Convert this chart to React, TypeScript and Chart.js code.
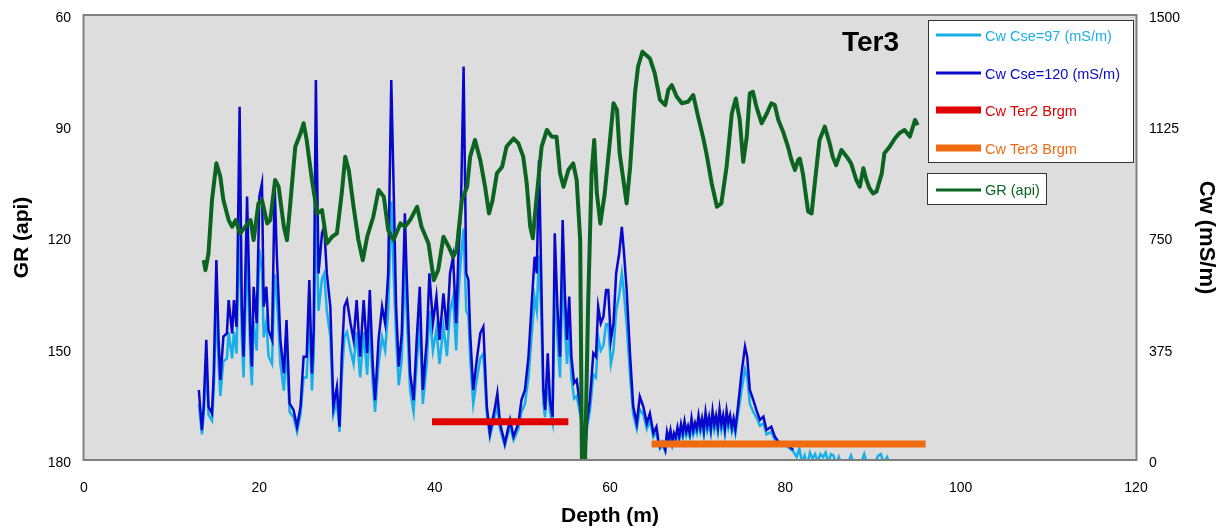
import React, { useEffect, useRef } from "react";
import { Chart, registerables } from "chart.js";

Chart.register(...registerables);

// ---------------- DATA ----------------
const depthTicks = [0, 20, 40, 60, 80, 100, 120];
const grTicks = [60, 90, 120, 150, 180];
const cwTicks = [0, 375, 750, 1125, 1500];

const grDepth = [
  13.65, 13.85, 14.2, 14.6, 15.1, 15.55, 15.9, 16.5, 16.9, 17.3, 17.8, 18.4, 19.0, 19.35, 19.9, 20.3, 20.9, 21.25,
  21.8, 22.2, 22.8, 23.15, 23.5, 24.1, 24.7, 25.05, 25.4, 26.0, 26.6, 27.15, 27.7, 28.3, 28.85, 29.4, 29.8, 30.2,
  30.75, 31.3, 31.8, 32.3, 33.0, 33.6, 34.2, 34.7, 35.3, 36.1, 36.6, 37.2, 38.0, 38.5, 39.3, 39.9, 40.4, 41.0,
  41.6, 42.1, 42.5, 43.1, 43.7, 44.05, 44.6, 45.2, 45.75, 46.2, 46.6, 47.1, 47.7, 48.2, 49.0, 49.55, 50.1, 50.5,
  50.9, 51.2, 51.6, 52.2, 52.8, 53.35, 53.9, 54.3, 54.7, 55.25, 55.8, 56.2, 56.6, 56.8, 57.15, 57.5, 57.9, 58.2,
  58.5, 58.9, 59.4, 60.0, 60.4, 60.8, 61.1, 61.9, 62.3, 62.85, 63.2, 63.7, 64.55, 65.1, 65.7, 66.3, 66.65, 67.05,
  67.6, 68.2, 68.9, 69.5, 70.05, 70.6, 71.0, 71.6, 72.2, 72.7, 73.3, 73.9, 74.35, 74.8, 75.2, 75.6, 75.95, 76.3,
  76.7, 77.3, 77.9, 78.4, 78.8, 79.2, 79.75, 80.3, 80.7, 81.1, 81.45, 81.65, 82.0, 82.6, 83.0, 83.4, 83.9, 84.5,
  85.05, 85.4, 85.8, 86.4, 87.0, 87.5, 88.1, 88.5, 88.9, 89.25, 89.6, 90.0, 90.4, 91.0, 91.3, 91.9, 92.5, 93.0,
  93.6, 94.2, 94.8, 95.1,
];
const grValues = [
  126.1, 128.8, 124.3, 109.9, 100, 103.6, 109.9, 115.3, 117.1, 115.3, 118.9, 117.1, 115.3, 120.7, 110.8, 109.9, 116.2, 115.3,
  104.5, 106.3, 117.1, 120.7, 111.7, 95.5, 91.9, 89.2, 93.7, 104.5, 113.5, 112.6, 121.6, 119.8, 118.9, 108.1, 98.2, 101.8,
  111.7, 120.7, 126.1, 119.8, 114.4, 107.2, 109.0, 118.0, 120.7, 116.2, 117.1, 115.3, 111.7, 117.1, 121.6, 131.5, 128.8, 119.8,
  122.5, 125.2, 123.4, 109.9, 106.3, 98.2, 93.7, 99.1, 106.3, 113.5, 110, 102.7, 100.9, 95.5, 93.3, 94.6, 98.2, 105.4,
  117.1, 120.2, 109.9, 95.5, 91.0, 92.8, 92.8, 102.7, 106.3, 101.8, 100, 104.5, 120.7, 181, 181, 138.7, 102.7, 93.7,
  108.1, 116.2, 108.1, 93.7, 83.8, 85.6, 97.3, 110.8, 100.9, 81.1, 73.9, 69.9, 71.7, 75.7, 82.9, 84.3, 80.2, 78.9,
  82.0, 83.8, 83.4, 81.6, 87.4, 92.8, 97.3, 105.4, 111.7, 110.8, 100.9, 86.5, 82.5, 88.3, 99.6, 92.8, 81.1, 80.7,
  84.7, 89.2, 86.5, 83.8, 84.3, 88.3, 91.5, 95.5, 99.1, 101.8, 99.1, 98.7, 102.7, 113, 113.5, 104.5, 93.7, 90.1,
  94.6, 98.2, 100.5, 96.4, 98.2, 100, 104.5, 106.3, 101.3, 104.5, 106.7, 108.1, 107.6, 102.7, 97.3, 95.5, 93.3, 91.9,
  91.0, 92.8, 88.3, 89.7,
];

const cwDepth = [
  13.1, 13.45, 13.65, 13.95, 14.2, 14.6, 14.8, 15.1, 15.35, 15.55, 15.9, 16.3, 16.5, 16.9, 17.1, 17.4, 17.5, 17.75,
  18.0, 18.2, 18.6, 19.0, 19.15, 19.35, 19.7, 20.0, 20.3, 20.5, 20.8, 21.05, 21.45, 21.75, 22.0, 22.4, 22.8, 23.1,
  23.45, 23.9, 24.3, 24.7, 25.05, 25.4, 25.7, 26.0, 26.2, 26.45, 26.75, 27.15, 27.4, 27.7, 28.1, 28.45, 28.85, 29.15,
  29.4, 29.7, 30.0, 30.4, 30.75, 31.1, 31.5, 31.9, 32.3, 32.6, 32.95, 33.2, 33.6, 34.0, 34.35, 34.7, 35.05, 35.3,
  35.6, 35.9, 36.25, 36.6, 36.8, 37.2, 37.6, 37.95, 38.3, 38.65, 39.1, 39.4, 39.8, 40.2, 40.55, 41.0, 41.4, 41.75,
  42.1, 42.45, 42.7, 43.0, 43.3, 43.6, 43.85, 44.05, 44.4, 44.8, 45.2, 45.55, 45.95, 46.3, 46.9, 47.15, 47.45, 48.0,
  48.6, 49.0, 49.55, 49.9, 50.3, 50.7, 51.05, 51.4, 51.65, 51.9, 52.15, 52.4, 52.6, 52.9, 53.15, 53.45, 53.7, 54.0,
  54.3, 54.6, 54.85, 55.1, 55.35, 55.6, 55.9, 56.2, 56.6, 56.95, 57.15, 57.4, 57.7, 58.1, 58.4, 58.65, 58.95, 59.25,
  59.55, 59.8, 60.1, 60.4, 60.7, 61.05, 61.35, 61.6, 61.9, 62.3, 62.65, 63.05, 63.4, 63.8, 64.2, 64.55, 64.95, 65.3,
  65.5, 65.7, 66.0, 66.3, 66.5, 66.7, 66.9, 67.1, 67.3, 67.5, 67.7, 67.9, 68.1, 68.3, 68.5, 68.7, 68.9, 69.1,
  69.3, 69.5, 69.7, 69.9, 70.1, 70.3, 70.5, 70.7, 70.9, 71.1, 71.3, 71.5, 71.7, 71.9, 72.1, 72.3, 72.5, 72.7,
  72.9, 73.1, 73.3, 73.5, 73.7, 73.9, 74.1, 74.3, 74.6, 75.0, 75.4, 75.65, 75.95, 76.35, 76.7, 77.1, 77.5, 77.85,
  78.4, 78.8, 79.35, 80.1, 80.9,
];
const cw120 = [
  236, 101, 180, 405, 180, 157, 292, 674, 405, 270, 416, 427, 539, 427, 539, 449, 629, 1191,
  517, 348, 888, 405, 315, 584, 461, 888, 933, 517, 584, 438, 405, 921, 685, 405, 292, 472,
  191, 169, 112, 180, 348, 348, 607, 292, 438, 1281, 629, 764, 786, 629, 517, 180, 247, 112,
  348, 517, 539, 461, 405, 539, 348, 539, 360, 573, 315, 202, 405, 517, 461, 629, 1281, 944,
  517, 315, 427, 832, 629, 292, 202, 405, 584, 236, 405, 629, 461, 551, 405, 562, 438, 629,
  685, 461, 685, 854, 1326, 629, 607, 427, 236, 337, 427, 449, 180, 90, 180, 225, 124, 56,
  135, 79, 124, 202, 236, 348, 517, 685, 629, 1011, 629, 236, 169, 360, 202, 146, 764, 517,
  348, 809, 562, 405, 551, 348, 259, 270, 180, 90, 22, 135, 202, 360, 348, 517, 461, 483,
  573, 573, 405, 461, 629, 697, 786, 697, 573, 348, 180, 124, 214, 180, 124, 157, 90, 112,
  70, 45, 60, 34, 95, 70, 100, 60, 90, 75, 110, 80, 120, 90, 130, 95, 115, 90,
  140, 100, 125, 105, 150, 110, 140, 100, 160, 115, 145, 105, 165, 120, 150, 110, 170, 120,
  150, 105, 165, 125, 150, 110, 140, 105, 180, 292, 382, 348, 236, 202, 169, 135, 146, 101,
  112, 79, 56, 56, 34,
];
const cw97 = [
  189, 86, 153, 324, 153, 133, 234, 539, 324, 216, 333, 342, 431, 342, 431, 359, 503, 810,
  414, 278, 710, 324, 252, 467, 369, 710, 634, 414, 467, 350, 324, 626, 548, 324, 234, 378,
  162, 144, 95, 153, 278, 278, 486, 234, 350, 871, 503, 611, 629, 503, 414, 153, 198, 95,
  278, 414, 431, 369, 324, 431, 278, 431, 288, 458, 252, 162, 324, 414, 369, 503, 871, 642,
  414, 252, 342, 666, 503, 234, 162, 324, 467, 189, 324, 503, 369, 441, 324, 450, 350, 503,
  548, 369, 548, 683, 780, 503, 486, 342, 189, 270, 342, 359, 153, 77, 153, 180, 105, 48,
  115, 67, 105, 162, 189, 278, 414, 548, 503, 690, 503, 189, 144, 288, 162, 124, 611, 414,
  278, 647, 450, 324, 441, 278, 207, 216, 153, 77, 19, 115, 162, 288, 278, 414, 369, 386,
  458, 458, 324, 369, 503, 558, 629, 558, 458, 278, 153, 105, 171, 153, 105, 133, 77, 95,
  60, 38, 51, 29, 81, 60, 85, 51, 77, 64, 94, 68, 102, 77, 111, 81, 98, 77,
  119, 85, 106, 89, 128, 94, 119, 85, 136, 98, 123, 89, 140, 102, 128, 94, 145, 102,
  128, 89, 140, 106, 128, 94, 119, 89, 153, 234, 306, 278, 189, 162, 144, 115, 124, 86,
  95, 67, 48, 48, 29,
];
const cw97TailDepth = [
  81.3, 81.6, 81.9, 82.2, 82.5, 82.8, 83.1, 83.4, 83.7, 84.0, 84.3, 84.6, 84.9, 85.2, 85.5, 85.8, 86.1, 86.4,
  87.0, 87.5, 87.8, 88.5, 89.0, 89.3, 90.0, 90.6, 90.9, 91.2, 91.6, 92.0,
];
const cw97Tail = [
  10, 40, -10, 15, -20, 25, 5, 20, -5, 20, 10, 25, -10, 20, 15, -20, 10, -15,
  -20, 15, -10, -20, 20, -10, -20, 15, 20, -10, 10, -20,
];

const ter2Depth = [39.7, 55.25];
const ter2Cw = [129, 129];
const ter3Depth = [64.75, 96.0];
const ter3Cw = [54, 54];

// ---------------- STYLE ----------------
const C_LIGHT = "#18b0e8";
const C_BLUE = "#0808cc";
const C_RED = "#e00000";
const C_ORANGE = "#f06a10";
const C_GREEN = "#0b6420";
const FONT = "'Liberation Sans', Arial, Helvetica, sans-serif";

const toXY = (xs: number[], ys: number[]) => xs.map((x, i) => ({ x, y: ys[i] }));

const decorPlugin = {
  id: "decor",
  beforeDatasetsDraw(chart: any) {
    const { ctx, chartArea: a } = chart;
    ctx.save();
    ctx.fillStyle = "#dcdddc";
    ctx.fillRect(a.left, a.top, a.right - a.left, a.bottom - a.top);
    ctx.restore();
  },
  afterDraw(chart: any) {
    const { ctx, chartArea: a } = chart;
    ctx.save();
    // plot border
    ctx.strokeStyle = "#808080";
    ctx.lineWidth = 2;
    ctx.strokeRect(a.left - 0.5, a.top, a.right - a.left + 1, a.bottom - a.top);

    // title
    ctx.fillStyle = "#000";
    ctx.font = `bold 28px ${FONT}`;
    ctx.textAlign = "left";
    ctx.textBaseline = "alphabetic";
    ctx.fillText("Ter3", 842, 50.5);

    // legend box 1
    ctx.fillStyle = "#ffffff";
    ctx.fillRect(928, 20, 206, 143);
    ctx.strokeStyle = "#333333";
    ctx.lineWidth = 1;
    ctx.strokeRect(928.5, 20.5, 205, 142);
    const items = [
      { t: "Cw Cse=97 (mS/m)", c: C_LIGHT, w: 3, y: 35 },
      { t: "Cw Cse=120 (mS/m)", c: C_BLUE, w: 3, y: 73 },
      { t: "Cw Ter2 Brgm", c: C_RED, w: 7, y: 110 },
      { t: "Cw Ter3 Brgm", c: C_ORANGE, w: 7, y: 148 },
    ];
    ctx.font = `14.5px ${FONT}`;
    ctx.textBaseline = "middle";
    for (const it of items) {
      ctx.strokeStyle = it.c;
      ctx.lineWidth = it.w;
      ctx.beginPath();
      ctx.moveTo(936, it.y);
      ctx.lineTo(981, it.y);
      ctx.stroke();
      ctx.fillStyle = it.c;
      ctx.fillText(it.t, 985, it.y + 1.5);
    }
    // legend box 2
    ctx.fillStyle = "#ffffff";
    ctx.fillRect(927, 173, 120, 32);
    ctx.strokeStyle = "#333333";
    ctx.lineWidth = 1;
    ctx.strokeRect(927.5, 173.5, 119, 31);
    ctx.strokeStyle = C_GREEN;
    ctx.lineWidth = 3;
    ctx.beginPath();
    ctx.moveTo(936, 190);
    ctx.lineTo(981, 190);
    ctx.stroke();
    ctx.fillStyle = C_GREEN;
    ctx.fillText("GR (api)", 985, 191);
    ctx.restore();
  },
};

export default function App() {
  const ref = useRef<HTMLCanvasElement | null>(null);

  useEffect(() => {
    document.body.style.margin = "0";
    if (!ref.current) return;
    const tickFont = { family: FONT, size: 14 };
    const plain = (v: any) => String(v);
    const fitY = (w: number) => (s: any) => {
      s.width = w;
      s.paddingTop = 5;
      s.paddingBottom = 5;
    };
    const chart = new Chart(ref.current, {
      type: "scatter",
      data: {
        datasets: [
          {
            label: "GR (api)",
            data: toXY(grDepth, grValues),
            yAxisID: "yGR",
            showLine: true,
            borderColor: C_GREEN,
            borderWidth: 4,
            pointRadius: 0,
            borderJoinStyle: "round",
          },
          {
            label: "Cw Ter3 Brgm",
            data: toXY(ter3Depth, ter3Cw),
            yAxisID: "yCw",
            showLine: true,
            borderColor: C_ORANGE,
            borderWidth: 7,
            pointRadius: 0,
          },
          {
            label: "Cw Ter2 Brgm",
            data: toXY(ter2Depth, ter2Cw),
            yAxisID: "yCw",
            showLine: true,
            borderColor: C_RED,
            borderWidth: 7,
            pointRadius: 0,
          },
          {
            label: "Cw Cse=120 (mS/m)",
            data: toXY(cwDepth, cw120),
            yAxisID: "yCw",
            showLine: true,
            borderColor: C_BLUE,
            borderWidth: 2.5,
            pointRadius: 0,
          },
          {
            label: "Cw Cse=97 (mS/m)",
            data: toXY(cwDepth.concat(cw97TailDepth), cw97.concat(cw97Tail)),
            yAxisID: "yCw",
            showLine: true,
            borderColor: C_LIGHT,
            borderWidth: 2.5,
            pointRadius: 0,
          },
        ],
      },
      options: {
        animation: false,
        responsive: false,
        maintainAspectRatio: false,
        layout: { padding: { top: 15, left: 0, right: 0, bottom: 0 } },
        plugins: { legend: { display: false }, tooltip: { enabled: false } },
        elements: { line: { tension: 0 } },
        scales: {
          x: {
            type: "linear",
            position: "bottom",
            min: 0,
            max: 120,
            grid: { display: false, drawTicks: false },
            border: { display: false },
            afterBuildTicks: (s: any) => {
              s.ticks = depthTicks.map((v) => ({ value: v }));
            },
            afterFit: (s: any) => {
              s.height = 70;
            },
            ticks: { color: "#000", font: tickFont, padding: 20, autoSkip: false, maxRotation: 0, callback: plain },
            title: {
              display: true,
              text: "Depth (m)",
              color: "#000",
              font: { family: FONT, size: 21, weight: "bold", lineHeight: 1.2 },
              padding: { top: 0, bottom: 1 },
            },
          },
          yGR: {
            type: "linear",
            position: "left",
            reverse: true,
            min: 60,
            max: 180,
            grid: { display: false, drawTicks: false },
            border: { display: false },
            afterBuildTicks: (s: any) => {
              s.ticks = grTicks.map((v) => ({ value: v }));
            },
            afterFit: fitY(84),
            ticks: { color: "#000", font: tickFont, padding: 13, autoSkip: false, labelOffset: 3, callback: plain },
            title: {
              display: true,
              text: "GR (api)",
              color: "#000",
              font: { family: FONT, size: 21, weight: "bold", lineHeight: 1.2 },
              padding: { top: 10, bottom: 0 },
            },
          },
          yCw: {
            type: "linear",
            position: "right",
            min: 0,
            max: 1500,
            grid: { display: false, drawTicks: false },
            border: { display: false },
            afterBuildTicks: (s: any) => {
              s.ticks = cwTicks.map((v) => ({ value: v }));
            },
            afterFit: fitY(85),
            ticks: { color: "#000", font: tickFont, padding: 13, autoSkip: false, labelOffset: 3, callback: plain },
            title: {
              display: true,
              text: "Cw (mS/m)",
              color: "#000",
              font: { family: FONT, size: 22, weight: "bold", lineHeight: 1.2 },
              padding: { top: 2, bottom: 0 },
            },
          },
        },
      },
      plugins: [decorPlugin],
    } as any);
    return () => chart.destroy();
  }, []);

  return (
    <div style={{ width: 1221, height: 530, position: "relative", background: "#fff" }}>
      <canvas ref={ref} width={1221} height={530} style={{ display: "block", width: 1221, height: 530 }} />
    </div>
  );
}
